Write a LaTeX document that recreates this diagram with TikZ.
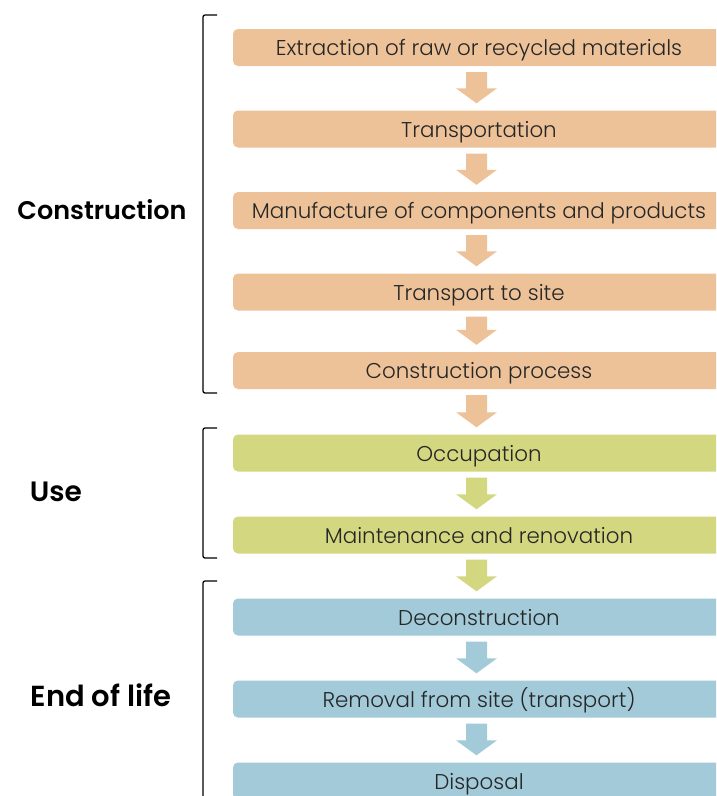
\documentclass[tikz,border=0pt]{standalone}
\usepackage{fontspec}
\setmainfont{Poppins}[UprightFont=*-Light, BoldFont=*-SemiBold]
\usetikzlibrary{calc}
\definecolor{corange}{RGB}{237,194,153}
\definecolor{cgreen}{RGB}{211,215,128}
\definecolor{cblue}{RGB}{162,202,217}
\tikzset{
  stepbox/.style={minimum width=492pt, minimum height=37pt, inner sep=0pt, rounded corners=5pt, font=\fontsize{21.4}{25}\selectfont, text=black!85, text height=16pt, text depth=0pt},
  phase/.style={inner sep=0pt, text depth=0pt},
  bracket/.style={draw=black, line width=1.3pt, rounded corners=2pt}
}
\newcommand{\flowarrow}[3]{%
  \fill[#3] let \p1=(#1.south), \p2=(#2.north) in
    ($(\x1,\y1)+(-2.5pt,-6pt)+(-10.5pt,0)$) -- ($(\x1,\y2)+(-2.5pt,22pt)+(-10.5pt,0)$) --
    ($(\x1,\y2)+(-2.5pt,22pt)+(-20.5pt,0)$) -- ($(\x1,\y2)+(-2.5pt,7pt)$) --
    ($(\x1,\y2)+(-2.5pt,22pt)+(20.5pt,0)$) -- ($(\x1,\y2)+(-2.5pt,22pt)+(10.5pt,0)$) --
    ($(\x1,\y1)+(-2.5pt,-6pt)+(10.5pt,0)$) -- cycle;}
\begin{document}
\begin{tikzpicture}[x=1pt,y=-1pt]
\useasboundingbox (0,0) rectangle (716,796);
\clip (0,0) rectangle (716,796);
\node[stepbox, fill=corange] (s1) at (479,47.5) {Extraction of raw or recycled materials};
\node[stepbox, fill=corange] (s2) at (479,129) {Transportation};
\node[stepbox, fill=corange] (s3) at (479,210.5) {Manufacture of components and products};
\node[stepbox, fill=corange] (s4) at (479,292) {Transport to site};
\node[stepbox, fill=corange] (s5) at (479,370.5) {Construction process};
\node[stepbox, fill=cgreen] (s6) at (479,453) {Occupation};
\node[stepbox, fill=cgreen] (s7) at (479,535) {Maintenance and renovation};
\node[stepbox, fill=cblue] (s8) at (479,617) {Deconstruction};
\node[stepbox, fill=cblue] (s9) at (479,699) {Removal from site (transport)};
\node[stepbox, fill=cblue] (s10) at (479,781) {Disposal};
\flowarrow{s1}{s2}{corange}
\flowarrow{s2}{s3}{corange}
\flowarrow{s3}{s4}{corange}
\flowarrow{s4}{s5}{corange}
\flowarrow{s5}{s6}{corange}
\flowarrow{s6}{s7}{cgreen}
\flowarrow{s7}{s8}{cgreen}
\flowarrow{s8}{s9}{cblue}
\flowarrow{s9}{s10}{cblue}
\draw[bracket] (217,15) -- (203,15) -- (203,393) -- (217,393);
\draw[bracket] (217,428) -- (203,428) -- (203,558) -- (217,558);
\draw[bracket] (217,581) -- (203,581) -- (203,810);
\node[phase, font=\fontsize{25.5}{30}\selectfont\bfseries, text height=18pt] (p1) at (102,210) {Construction};
\node[phase, font=\fontsize{28}{33}\selectfont\bfseries, text height=19.5pt] (p2) at (56,492) {Use};
\node[phase, font=\fontsize{29}{34}\selectfont\bfseries, text height=20.5pt] (p3) at (101,696) {End of life};
\end{tikzpicture}
\end{document}
